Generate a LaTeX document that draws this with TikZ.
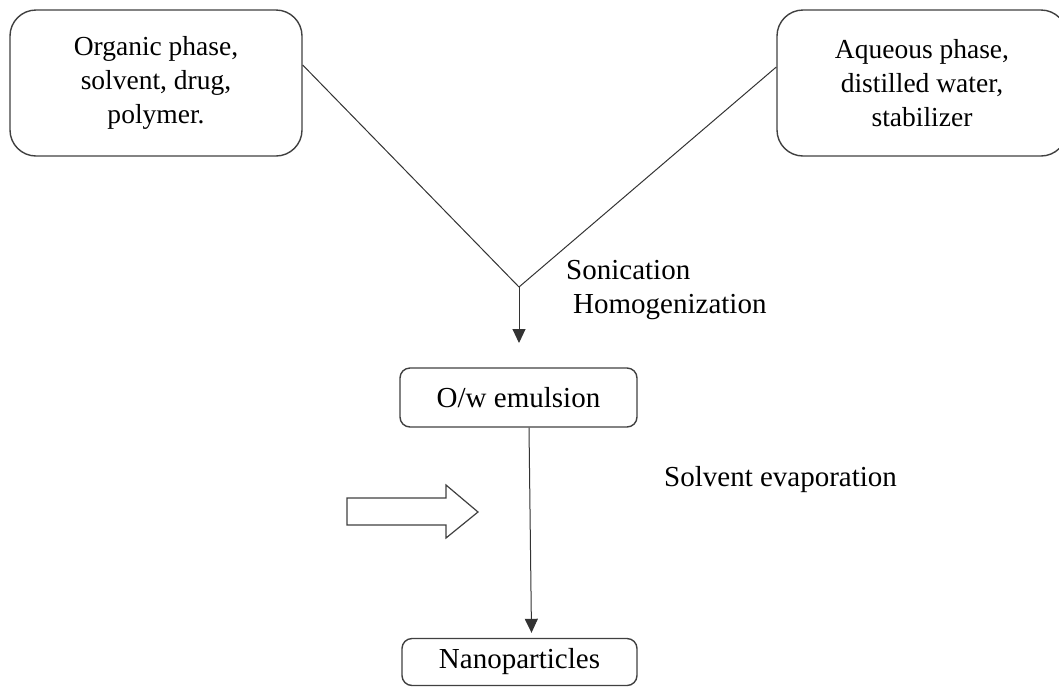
\documentclass[tikz,border=0pt]{standalone}
\usepackage{fontspec}
\setmainfont{Liberation Serif}
\usetikzlibrary{arrows.meta}
\begin{document}
\begin{tikzpicture}[x=1pt,y=-1pt,
  bigbox/.style={draw=black!75,line width=1.4pt,rounded corners=26pt,minimum width=292pt,minimum height=146pt,align=center,font=\fontsize{27.5}{34}\selectfont,inner sep=0pt},
  smallbox/.style={draw=black!75,line width=1.4pt,rounded corners=10pt,align=center,font=\fontsize{29}{34}\selectfont,inner sep=0pt},
  lbl/.style={anchor=west,font=\fontsize{29}{34}\selectfont,inner sep=0pt},
  conn/.style={draw=black!80,line width=1pt},
  arr/.style={conn,-{Triangle[width=13pt,length=14pt]}}]
\useasboundingbox (0,0) rectangle (1059,697);
\node[bigbox] (org) at (156,83) {Organic phase,\\solvent, drug,\\polymer.};
\node[bigbox,minimum width=290pt] (aq) at (922,83) {Aqueous phase,\\distilled water,\\stabilizer};
\coordinate (J) at (519,287);
\coordinate (Jd) at (519,343);
\node[smallbox,minimum width=237pt,minimum height=59pt] (ow) at (518.5,397.5) {O/w emulsion};
\node[smallbox,minimum width=235pt,minimum height=47pt] (nano) at (519.5,662) {Nanoparticles};
\node[lbl] (son) at (566,270) {Sonication};
\node[lbl] (hom) at (573,307) {Homogenization};
\node[lbl] (sev) at (664,480) {Solvent evaporation};
\draw[conn] ([yshift=18pt]org.east) -- (J);
\draw[conn] ([yshift=16pt]aq.west) -- (J);
\draw[arr] (J) -- (Jd);
\draw[arr] ([xshift=10.5pt]ow.south) -- ([xshift=12pt,yshift=5pt]nano.north);
\draw[draw=black!75,line width=1.2pt,fill=white,line join=miter]
  (347,498) -- (446,498) -- (446,485) -- (478,512) -- (446,538) -- (446,525) -- (347,525) -- cycle;
\end{tikzpicture}
\end{document}
